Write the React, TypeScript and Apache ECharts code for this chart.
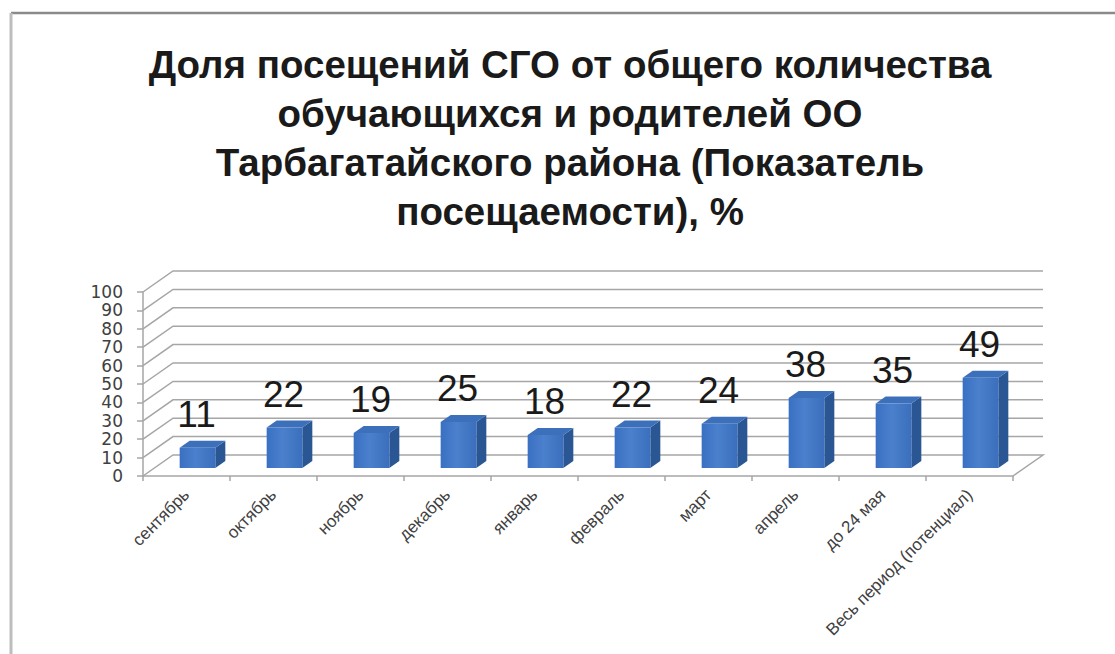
import React, { useEffect, useRef } from "react";
import * as echarts from "echarts";

const titleLines = [
  "Доля посещений СГО от общего количества",
  "обучающихся и родителей ОО",
  "Тарбагатайского района (Показатель",
  "посещаемости), %",
];
const categories = [
  "сентябрь",
  "октябрь",
  "ноябрь",
  "декабрь",
  "январь",
  "февраль",
  "март",
  "апрель",
  "до 24 мая",
  "Весь период (потенциал)",
];
const values = [11, 22, 19, 25, 18, 22, 24, 38, 35, 49];
const yTicks = [0, 10, 20, 30, 40, 50, 60, 70, 80, 90, 100];

const DEPTH_X = 30;
const DEPTH_Y = -21;

export default function App() {
  const ref = useRef<HTMLDivElement>(null);
  useEffect(() => {
    if (!ref.current) return;
    const chart = echarts.init(ref.current, undefined, { renderer: "svg" });
    const option: any = {
      animation: false,
      backgroundColor: "#ffffff",
      grid: { left: 143, right: 102, top: 292, bottom: 178, containLabel: false },
      xAxis: {
        type: "category",
        data: categories,
        boundaryGap: true,
        axisLine: { show: true, lineStyle: { color: "#a6a6a6", width: 1.5 } },
        axisTick: { show: true, length: 5, lineStyle: { color: "#a6a6a6", width: 1.5 } },
        axisLabel: {
          rotate: 45,
          interval: 0,
          margin: 16,
          fontSize: 17,
          fontFamily: "'Liberation Sans', Arial, sans-serif",
          color: "#404040",
        },
        splitLine: { show: false },
      },
      yAxis: {
        type: "value",
        min: 0,
        max: 100,
        interval: 10,
        axisLine: { show: true, lineStyle: { color: "#a6a6a6", width: 1.5 } },
        axisTick: { show: true, length: 6, lineStyle: { color: "#a6a6a6", width: 1.5 } },
        axisLabel: {
          margin: 20,
          fontSize: 17,
          lineHeight: 16,
          showMinLabel: true,
          showMaxLabel: true,
          hideOverlap: false,
          fontFamily: "'DejaVu Sans', sans-serif",
          color: "#404040",
        },
        splitLine: { show: false },
      },
      graphic: [
        {
          type: "line",
          shape: { x1: 11, y1: 13, x2: 1115, y2: 13 },
          style: { stroke: "#8a8a8a", lineWidth: 2.5 },
        },
        {
          type: "line",
          shape: { x1: 11, y1: 13, x2: 11, y2: 654 },
          style: { stroke: "#bdbdbd", lineWidth: 3 },
        },
        {
          type: "text",
          x: 570,
          y: 40,
          style: {
            text: titleLines.join("\n"),
            textAlign: "center",
            textVerticalAlign: "top",
            lineHeight: 49,
            fontSize: 38.5,
            fontWeight: "bold",
            fontFamily: "'Liberation Sans', Arial, sans-serif",
            fill: "#1a1a1a",
          },
        },
      ],
      series: [
        {
          type: "custom",
          z: 1,
          clip: false,
          silent: true,
          data: yTicks.map((t) => [0, t]),
          renderItem: (params: any, api: any) => {
            const cs = params.coordSys;
            const p = api.coord([0, api.value(1)]);
            const pts: number[][] = [
              [cs.x, p[1]],
              [cs.x + DEPTH_X, p[1] + DEPTH_Y],
              [cs.x + cs.width + DEPTH_X, p[1] + DEPTH_Y],
            ];
            if (api.value(1) === 0) pts.push([cs.x + cs.width, p[1]]);
            return {
              type: "polyline",
              shape: { points: pts },
              style: { stroke: "#a6a6a6", lineWidth: 1.5, fill: "none" },
            };
          },
        },
        {
          type: "custom",
          z: 2,
          clip: false,
          data: values.map((v, i) => [i, v]),
          renderItem: (params: any, api: any) => {
            const i = api.value(0);
            const v = api.value(1);
            const p0 = api.coord([i, 0]);
            const p1 = api.coord([i, v]);
            const w = api.size([1, 0])[0] * 0.41;
            const ox = 11, oy = -8, dx = 10, dy = -7;
            const x0 = p0[0] - w / 2 + ox;
            const x1 = x0 + w;
            const yb = p0[1] + oy;
            const yt = p1[1] + oy;
            return {
              type: "group",
              children: [
                {
                  type: "polygon",
                  shape: { points: [[x1, yt], [x1 + dx, yt + dy], [x1 + dx, yb + dy], [x1, yb]] },
                  style: { fill: "#2a5794" },
                },
                {
                  type: "polygon",
                  shape: { points: [[x0, yt], [x0 + dx, yt + dy], [x1 + dx, yt + dy], [x1, yt]] },
                  style: { fill: "#3d70bb" },
                },
                {
                  type: "polygon",
                  shape: { points: [[x0, yt], [x1, yt], [x1, yb], [x0, yb]] },
                  style: {
                    fill: new echarts.graphic.LinearGradient(0, 0, 1, 0, [
                      { offset: 0, color: "#3a70c2" },
                      { offset: 0.45, color: "#4a80cc" },
                      { offset: 1, color: "#3b6fbd" },
                    ]),
                  },
                },
                {
                  type: "text",
                  x: (x0 + x1) / 2 - 1,
                  y: yt - 15,
                  style: {
                    text: String(v),
                    textAlign: "center",
                    textVerticalAlign: "bottom",
                    fontSize: 37,
                    fontFamily: "'Liberation Sans', Arial, sans-serif",
                    fill: "#1a1a1a",
                  },
                },
              ],
            };
          },
        },
      ],
    };
    chart.setOption(option);
    return () => chart.dispose();
  }, []);
  return (
    <div
      ref={ref}
      style={{ position: "fixed", left: 0, top: 0, width: 1115, height: 654 }}
    />
  );
}
